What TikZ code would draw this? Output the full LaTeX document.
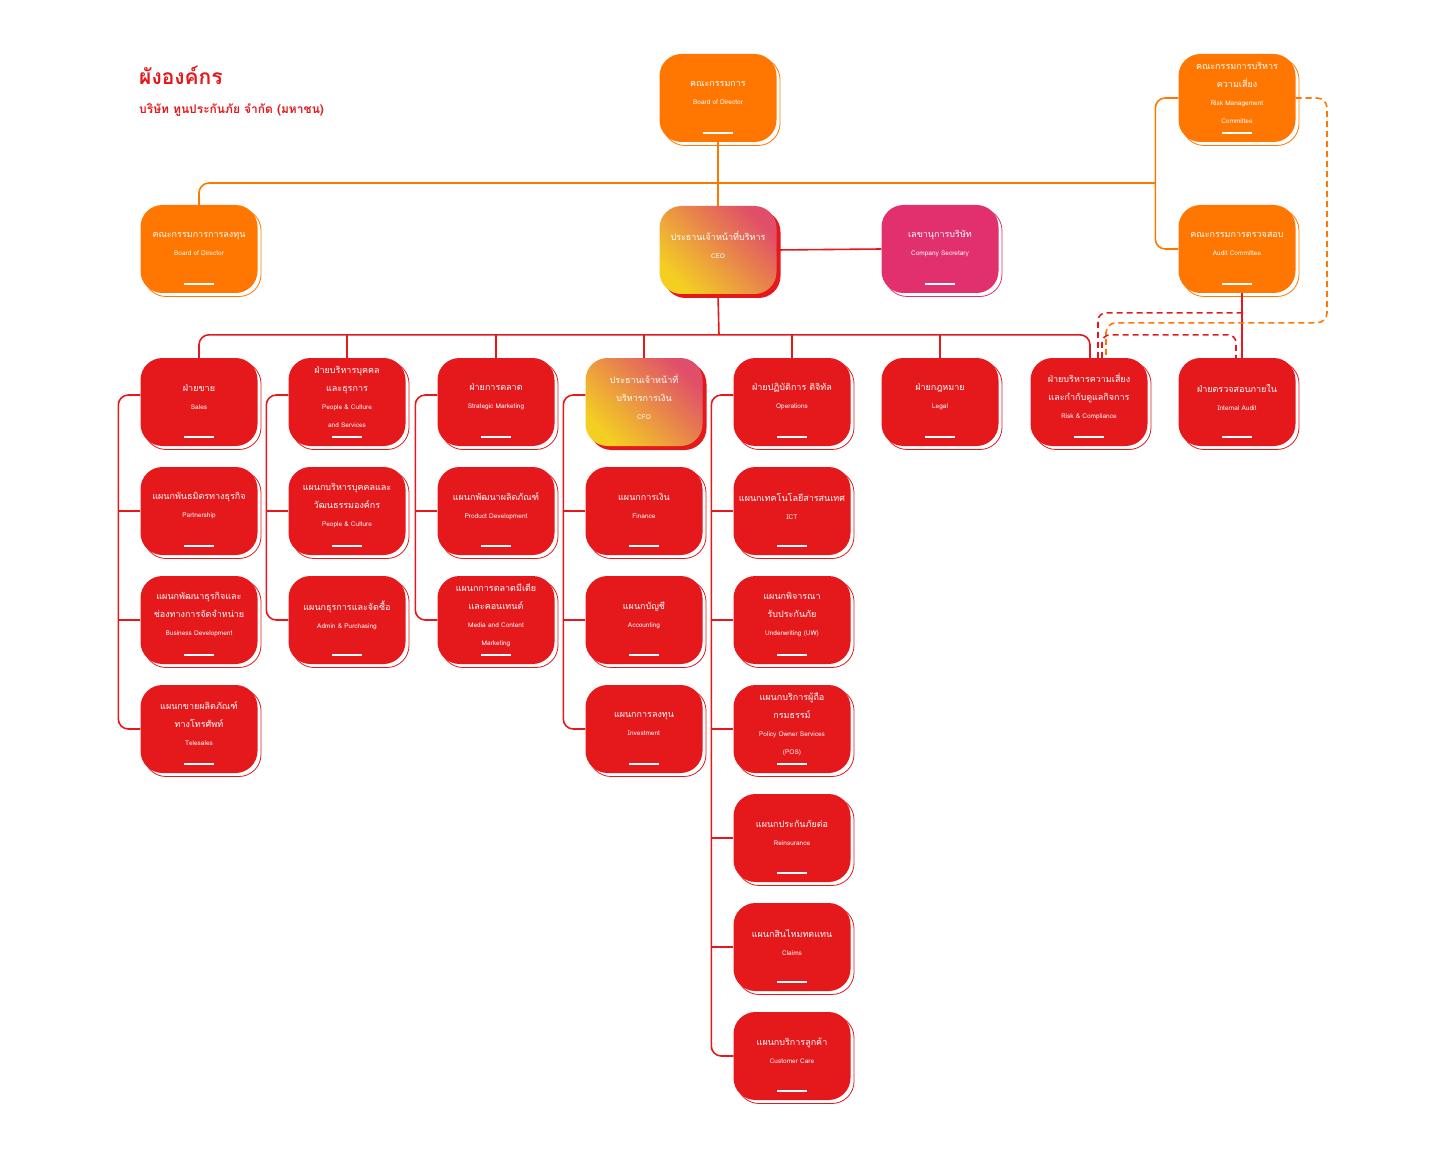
\documentclass[tikz,border=0pt]{standalone}
\usepackage{fontspec}
\newfontfamily\thai[Script=Thai]{Loma}
\usetikzlibrary{calc}
\definecolor{cor}{HTML}{FF7700}
\definecolor{cred}{HTML}{E5191C}
\definecolor{cpink}{HTML}{E2306E}
\definecolor{gA}{HTML}{E04E6A}
\definecolor{gB}{HTML}{F4CF22}
\tikzset{
 orgbox/.style={rounded corners=22, minimum width=117, minimum height=88, inner sep=0, draw=none},
 shadowbox/.style={rounded corners=22, minimum width=117, minimum height=88, inner sep=0, fill=white, line width=0.8},
 boxtext/.style={text=white, align=center, font=\thai\fontsize{9}{18}\selectfont, inner sep=0},
 bar/.style={white, line width=2.5},
 redline/.style={cred, line width=1.6},
 orline/.style={cor, line width=1.6},
 reddash/.style={cred, line width=1.6, dash pattern=on 6pt off 4pt},
 ordash/.style={cor, line width=1.6, dash pattern=on 6pt off 4pt},
}
\newcommand\E[1]{{\fontsize{6.5}{13}\selectfont #1}}
\newcommand\obox[5]{%
 \node[shadowbox,draw=#4] at (#2+3.5,#3+3.5) {};
 \node[orgbox,fill=#4] (#1) at (#2,#3) {};
 \node[boxtext] at (#2,#3-5) {#5};
 \draw[bar] (#2-15,#3+35) -- (#2+15,#3+35);}
\newcommand\gbox[4]{%
 \node[orgbox,fill=cred] at (#2+4,#3+4) {};
 \node[orgbox,left color=gA,right color=gB,shading angle=-45] (#1) at (#2,#3) {};
 \node[boxtext] at (#2,#3-5) {#4};}
\begin{document}
\begin{tikzpicture}[x=1pt,y=-1pt]
\useasboundingbox (0,0) rectangle (1440,1150);
% title
\node[anchor=west,text=cred,font=\thai\bfseries\fontsize{21}{24}\selectfont,inner sep=0] (title) at (139,75) {ผังองค์กร};
\node[anchor=west,text=cred,font=\thai\bfseries\fontsize{12}{14}\selectfont,inner sep=0] (sub) at (139,110) {บริษัท ทูนประกันภัย จำกัด (มหาชน)};
% top level
\obox{board}{718}{98}{cor}{คณะกรรมการ\\\E{Board of Director}}
\obox{invb}{199}{249}{cor}{คณะกรรมการการลงทุน\\\E{Board of Director}}
\obox{sec}{940}{249}{cpink}{เลขานุการบริษัท\\\E{Company Secretary}}
\obox{riskc}{1237}{98}{cor}{คณะกรรมการบริหาร\\ความเสี่ยง\\\E{Risk Management}\\\E{Committee}}
\obox{auditc}{1237}{249}{cor}{คณะกรรมการตรวจสอบ\\\E{Audit Committee}}
% row 1
\obox{sales}{199}{402}{cred}{ฝ่ายขาย\\\E{Sales}}
\obox{hr}{347}{402}{cred}{ฝ่ายบริหารบุคคล\\และธุรการ\\\E{People \& Culture}\\\E{and Services}}
\obox{mkt}{496}{402}{cred}{ฝ่ายการตลาด\\\E{Strategic Marketing}}
\obox{ops}{792}{402}{cred}{ฝ่ายปฏิบัติการ ดิจิทัล\\\E{Operations}}
\obox{legal}{940}{402}{cred}{ฝ่ายกฎหมาย\\\E{Legal}}
\obox{riskd}{1089}{402}{cred}{ฝ่ายบริหารความเสี่ยง\\และกำกับดูแลกิจการ\\\E{Risk \& Compliance}}
\obox{ia}{1237}{402}{cred}{ฝ่ายตรวจสอบภายใน\\\E{Internal Audit}}
% sales column
\obox{part}{199}{511}{cred}{แผนกพันธมิตรทางธุรกิจ\\\E{Partnership}}
\obox{bd}{199}{620}{cred}{แผนกพัฒนาธุรกิจและ\\ช่องทางการจัดจำหน่าย\\\E{Business Development}}
\obox{tele}{199}{729}{cred}{แผนกขายผลิตภัณฑ์\\ทางโทรศัพท์\\\E{Telesales}}
% hr column
\obox{pc}{347}{511}{cred}{แผนกบริหารบุคคลและ\\วัฒนธรรมองค์กร\\\E{People \& Culture}}
\obox{adm}{347}{620}{cred}{แผนกธุรการและจัดซื้อ\\\E{Admin \& Purchasing}}
% marketing column
\obox{pd}{496}{511}{cred}{แผนกพัฒนาผลิตภัณฑ์\\\E{Product Development}}
\obox{media}{496}{620}{cred}{แผนกการตลาดมีเดีย\\และคอนเทนต์\\\E{Media and Content}\\\E{Marketing}}
% cfo column
\obox{fin}{644}{511}{cred}{แผนกการเงิน\\\E{Finance}}
\obox{acc}{644}{620}{cred}{แผนกบัญชี\\\E{Accounting}}
\obox{inv}{644}{729}{cred}{แผนกการลงทุน\\\E{Investment}}
% ops column
\obox{ict}{792}{511}{cred}{แผนกเทคโนโลยีสารสนเทศ\\\E{ICT}}
\obox{uw}{792}{620}{cred}{แผนกพิจารณา\\รับประกันภัย\\\E{Underwriting (UW)}}
\obox{pos}{792}{729}{cred}{แผนกบริการผู้ถือ\\กรมธรรม์\\\E{Policy Owner Services}\\\E{(POS)}}
\obox{rein}{792}{838}{cred}{แผนกประกันภัยต่อ\\\E{Reinsurance}}
\obox{clm}{792}{947}{cred}{แผนกสินไหมทดแทน\\\E{Claims}}
\obox{cc}{792}{1056}{cred}{แผนกบริการลูกค้า\\\E{Customer Care}}
% gradient boxes
\gbox{ceo}{718}{250}{ประธานเจ้าหน้าที่บริหาร\\\E{CEO}}
\gbox{cfo}{644}{402}{ประธานเจ้าหน้าที่\\บริหารการเงิน\\\E{CFO}}
% connectors top
\coordinate (obus) at (1155,183);
\coordinate (rbus) at (719,335);
\draw[orline] (board.south) -- (ceo.north);
\draw[orline,rounded corners=10] (invb.north) |- (obus);
\draw[orline,rounded corners=10] (riskc.west) -| ($(auditc.west)+(-23,0)$) -- (auditc.west);
\draw[redline] (ceo.east) -- (sec.west);
\draw[redline] (ceo.south) -- (rbus);
\draw[redline,rounded corners=10] (sales.north) |- ($(riskd.north)+(1,-23)$) -- ($(riskd.north)+(1,0)$);
\foreach \n in {hr,mkt,cfo,ops,legal} \draw[redline] (\n.north) -- (\n.north |- rbus);
\draw[redline] ($(auditc.south)+(5,0)$) -- ($(ia.north)+(5,0)$);
\draw[reddash,rounded corners=8] ($(riskd.north)+(9,0)$) |- ($(ia.north)+(5,-45)$);
\draw[reddash,rounded corners=8] ($(riskd.north)+(13,0)$) |- ($(ia.north)+(-1,-23)$) -- ($(ia.north)+(-1,0)$);
\draw[ordash,rounded corners=10] (riskc.east) -| ($(ia.north)+(90,-35)$) -| ($(riskd.north)+(17,0)$);
% column brackets
\draw[redline,rounded corners=10] ($(sales.west)+(0,-7)$) -| ($(tele.west)+(-22,0)$) -- (tele.west);
\foreach \n in {part,bd} \draw[redline] (\n.west) -- ++(-22,0);
\draw[redline,rounded corners=10] ($(hr.west)+(0,-7)$) -| ($(adm.west)+(-22,0)$) -- (adm.west);
\draw[redline] (pc.west) -- ++(-22,0);
\draw[redline,rounded corners=10] ($(mkt.west)+(0,-7)$) -| ($(media.west)+(-22,0)$) -- (media.west);
\draw[redline] (pd.west) -- ++(-22,0);
\draw[redline,rounded corners=10] ($(cfo.west)+(0,-7)$) -| ($(inv.west)+(-22,0)$) -- (inv.west);
\foreach \n in {fin,acc} \draw[redline] (\n.west) -- ++(-22,0);
\draw[redline,rounded corners=10] ($(ops.west)+(0,-7)$) -| ($(cc.west)+(-22,0)$) -- (cc.west);
\foreach \n in {ict,uw,pos,rein,clm} \draw[redline] (\n.west) -- ++(-22,0);
\end{tikzpicture}
\end{document}
